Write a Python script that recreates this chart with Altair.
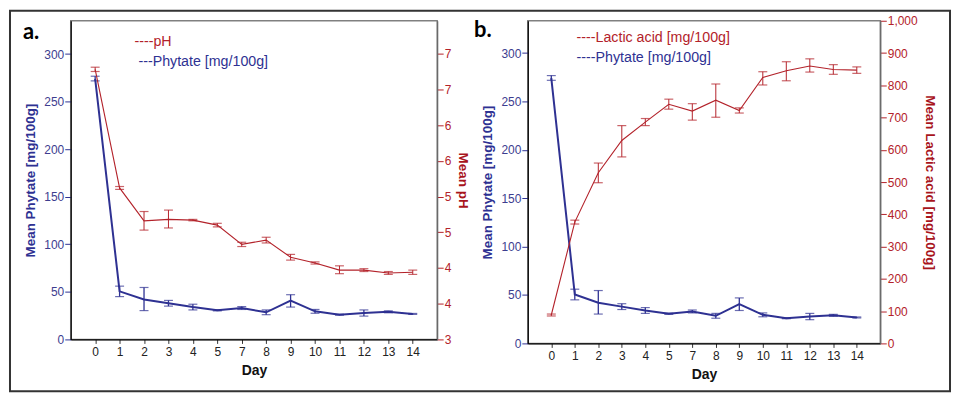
import altair as alt
import pandas as pd

# ---------------- data ----------------
days = ["0", "1", "2", "3", "4", "5", "7", "8", "9", "10", "11", "12", "13", "14"]

phytate = [274, 50.5, 42, 38, 34, 30.6, 33, 28.5, 40.7, 29.5, 26, 27.8, 29, 26.8]
phytate_lo = [271.8, 45, 30.3, 35, 31, 30, 31.5, 26, 34, 27.5, 25.5, 24.5, 28, 26.3]
phytate_hi = [276.7, 56, 54.6, 41, 37, 31.2, 34.5, 31, 47, 31.5, 26.5, 31, 30, 27.3]

ph = [6.78, 5.12, 4.66, 4.68, 4.67, 4.60, 4.33, 4.39, 4.15, 4.07, 3.97, 3.97, 3.93, 3.94]
ph_lo = [6.75, 5.10, 4.53, 4.56, 4.66, 4.575, 4.30, 4.35, 4.11, 4.055, 3.92, 3.95, 3.91, 3.91]
ph_hi = [6.81, 5.14, 4.79, 4.81, 4.68, 4.625, 4.36, 4.43, 4.19, 4.085, 4.03, 3.99, 3.95, 3.97]

lactic = [88, 376, 529, 629, 686, 741, 720, 754, 722, 824, 845, 860, 849, 847]
lactic_lo = [85, 370, 498, 578, 675, 726, 692, 701, 714, 801, 814, 841, 834, 837]
lactic_hi = [91, 382, 559, 675, 697, 757, 743, 804, 730, 842, 873, 882, 864, 857]

phytate_ticks = [0, 50, 100, 150, 200, 250, 300]
ph_ticks = [3, 3.5, 4, 4.5, 5, 5.5, 6, 6.5, 7]
lactic_ticks = [0, 100, 200, 300, 400, 500, 600, 700, 800, 900, 1000]

df = pd.DataFrame({
    "Day": days,
    "phytate": phytate, "phytate_lo": phytate_lo, "phytate_hi": phytate_hi,
    "ph": ph, "ph_lo": ph_lo, "ph_hi": ph_hi,
    "lactic": lactic, "lactic_lo": lactic_lo, "lactic_hi": lactic_hi,
})
one = pd.DataFrame({"a": [1]})

# ---------------- style ----------------
NAVY = "#2e3192"
NAVY_LBL = "#3d3d8f"
RED = "#b3222a"
RED_TITLE = "#a8141c"
FONT = "Liberation Sans"


def x_enc():
    return alt.X(
        "Day:O", sort=days,
        scale=alt.Scale(type="point", padding=1.27),
        axis=alt.Axis(title="Day", labelAngle=0, labelFont=FONT, labelFontSize=12,
                      labelColor="#222222", tickColor="#333333", tickSize=4,
                      domainColor="#000000", domainWidth=1.2, labelPadding=3,
                      titleFont=FONT, titleFontSize=14, titleFontWeight="bold",
                      titleColor="#111111", titlePadding=6, grid=False),
    )


def series(field, color, width, domain, axis, capw, errw):
    sc = alt.Scale(domain=domain, nice=False, zero=False)
    base = alt.Chart(df)
    line = base.mark_line(color=color, strokeWidth=width).encode(
        x=x_enc(), y=alt.Y(f"{field}:Q", scale=sc, axis=axis))
    rule = base.mark_rule(color=color, strokeWidth=errw).encode(
        x=x_enc(), y=alt.Y(f"{field}_lo:Q", scale=sc, axis=axis), y2=f"{field}_hi:Q")
    tlo = base.mark_tick(color=color, size=capw, thickness=1.2).encode(
        x=x_enc(), y=alt.Y(f"{field}_lo:Q", scale=sc, axis=axis))
    thi = base.mark_tick(color=color, size=capw, thickness=1.2).encode(
        x=x_enc(), y=alt.Y(f"{field}_hi:Q", scale=sc, axis=axis))
    return alt.layer(line, rule, tlo, thi)


def left_axis():
    return alt.Axis(orient="left", values=phytate_ticks, title="Mean Phytate [mg/100g]",
                    titleColor=NAVY, titleFont=FONT, titleFontSize=13.5, titleFontWeight="bold",
                    titlePadding=6, labelColor=NAVY_LBL, labelFont=FONT, labelFontSize=12,
                    labelPadding=1, tickColor=NAVY, tickSize=6, domainColor="#000000",
                    domainWidth=1.2, grid=False)


def right_axis(values, title, label_expr):
    return alt.Axis(orient="right", values=values, labelExpr=label_expr, title=title,
                    titleAngle=90, titleColor=RED_TITLE, titleFont=FONT, titleFontSize=13.5,
                    titleFontWeight="bold", titlePadding=5, labelColor=RED, labelFont=FONT,
                    labelFontSize=12, labelPadding=1, labelOverlap=False, tickColor=RED,
                    tickSize=6, domainColor="#666666", domainWidth=1.2, grid=False)


def text(txt, x, y, color, size=14.3, weight="normal", font=FONT):
    return alt.Chart(one).mark_text(text=txt, align="left", baseline="middle", font=font,
                                    fontSize=size, fontWeight=weight, color=color).encode(
        x=alt.value(x), y=alt.value(y))


# ---------------- panel a ----------------
phy_a = series("phytate", NAVY, 2, [0, 335], left_axis(), 9, 1.3)
ph_a = series("ph", RED, 1.1, [3, 7.46],
              right_axis(ph_ticks, "Mean pH", "'' + round(datum.value)"), 9, 1)

border = alt.Chart(one).mark_rect(filled=False, stroke="#333333", strokeWidth=2).encode(
    x=alt.value(-61), x2=alt.value(883), y=alt.value(-10), y2=alt.value(372))

panel_a = alt.layer(
    alt.layer(phy_a, ph_a).resolve_scale(y="independent"),
    border,
    text("a.", -48, 11, "#000000", size=22, weight="bold", font="Lato"),
    text("----pH", 64, 21, RED),
    text("---Phytate [mg/100g]", 68, 41, NAVY),
).properties(width=368, height=320)

# ---------------- panel b ----------------
phy_b = series("phytate", NAVY, 2, [0, 333.33], left_axis(), 9, 1.3)
lac_b = series("lactic", RED, 1.1, [0, 1000],
               right_axis(lactic_ticks, "Mean Lactic acid [mg/100g]",
                          "format(datum.value, ',d')"), 9, 1)

panel_b = alt.layer(
    alt.layer(phy_b, lac_b).resolve_scale(y="independent"),
    text("b.", -54, 9, "#000000", size=22, weight="bold", font="Lato"),
    text("----Lactic acid [mg/100g]", 49, 17, RED),
    text("----Phytate [mg/100g]", 49, 37, NAVY),
).properties(width=354, height=324)

chart = alt.hconcat(panel_a, panel_b, spacing=91, bounds="flush").properties(
    padding=0, background="white"
).configure_view(stroke="#808080", strokeWidth=1.5)

chart.save("out.html", embed_options={"renderer": "svg", "actions": False})
